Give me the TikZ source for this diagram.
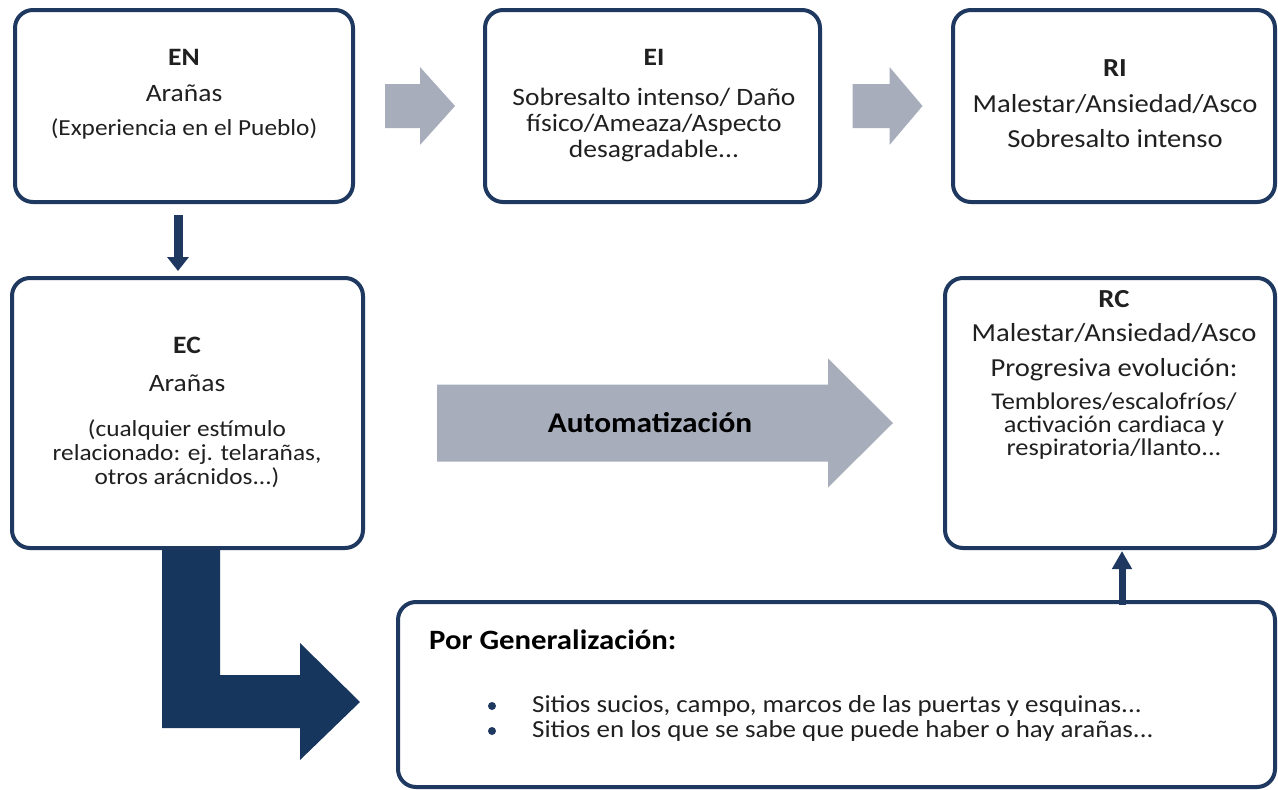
\documentclass[tikz,border=0pt]{standalone}
\usepackage{fontspec}
\setmainfont{Carlito}[FakeStretch=1.1]
\usetikzlibrary{arrows.meta}
\definecolor{navy}{RGB}{31,56,96}
\definecolor{navyfill}{RGB}{23,54,93}
\definecolor{arrgray}{RGB}{167,173,187}
\definecolor{txt}{RGB}{32,32,32}
\newcommand{\smf}{\fontsize{23}{24}\selectfont}
\newcommand{\smr}{\fontsize{24}{24}\selectfont}
\begin{document}
\begin{tikzpicture}[x=1pt,y=-1pt,
  box/.style={draw=navy, line width=4pt, rounded corners=18pt, fill=white, inner sep=0pt},
  lbl/.style={align=center, inner sep=0pt, text=txt, font=\fontsize{25}{26}\selectfont},
  lblr/.style={lbl, font=\fontsize{26}{26}\selectfont},
  thinarrow/.style={draw=navy, line width=#1},
  blockarrow/.style={fill=arrgray}]
\useasboundingbox (0,0) rectangle (1278,790);
\fill[white] (0,0) rectangle (1278,790);

% boxes
\node[box, minimum width=338pt, minimum height=192pt] (EN) at (184,106) {};
\node[box, minimum width=335pt, minimum height=192pt] (EI) at (652.5,106) {};
\node[box, minimum width=322pt, minimum height=192pt] (RI) at (1114,106) {};
\node[box, minimum width=351pt, minimum height=270pt] (EC) at (187.5,413) {};
\node[box, minimum width=330pt, minimum height=270pt] (RC) at (1110,413) {};

% L-shaped arrow EC -> Gen
\fill[navyfill] (162,0 |- EC.south) -- (220,0 |- EC.south) -- (220,675) -- (300,675) -- (300,643)
   -- (360,702) -- (300,760) -- (300,728) -- (162,728) -- cycle;
\node[box, minimum width=877pt, minimum height=185pt] (Gen) at (836.5,694.5) {};

% texts
\node[lbl, anchor=north] (ENt) at (184,49) {\textbf{EN}\\[10pt] Arañas\\[8pt] \smf (Experiencia en el Pueblo)};
\node[lbl, anchor=north] (EIt) at (654,49) {\textbf{EI}\\[14pt] Sobresalto intenso/ Daño\\ físico/Ameaza/Aspecto\\ desagradable...};
\node[lblr, anchor=north] (RIt) at (1115,59) {\textbf{RI}\\[10pt] Malestar/Ansiedad/Asco\\[9pt] Sobresalto intenso};
\node[lbl, anchor=north] (ECt) at (187,337) {\textbf{EC}\\[12pt] Arañas\\[19pt] \smf (cualquier estímulo\\[-2pt] \smf relacionado: ej. telarañas,\\[-2pt] \smf otros arácnidos...)};
\node[lblr, anchor=north] (RCt) at (1114,290) {\textbf{RC}\\[8pt] Malestar/Ansiedad/Asco\\[9pt] Progresiva evolución:\\[7pt] \smr Temblores/escalofríos/\\[-3pt] \smr activación cardiaca y\\[-3pt] \smr respiratoria/llanto...};

\node[anchor=west, inner sep=0pt, text=black, font=\fontsize{28}{30}\selectfont\bfseries] (GenT) at (429,640) {Por Generalización:};
\node[circle, fill=navy, inner sep=0pt, minimum size=8pt] (b1) at (492,706) {};
\node[circle, fill=navy, inner sep=0pt, minimum size=8pt] (b2) at (492,731) {};
\node[anchor=west, inner sep=0pt, text=txt, font=\fontsize{24.5}{26}\selectfont] (g1) at (532,706) {Sitios sucios, campo, marcos de las puertas y esquinas...};
\node[anchor=west, inner sep=0pt, text=txt, font=\fontsize{24.5}{26}\selectfont] (g2) at (532,731) {Sitios en los que se sabe que puede haber o hay arañas...};

% gray block arrows
\path (EN.east) -- (EI.west) coordinate[midway] (m1);
\path (EI.east) -- (RI.west) coordinate[midway] (m2);
\path (EC.east) -- (RC.west) coordinate[midway] (m3);
\fill[blockarrow, shift={(m1)}] (-34,-22) -- (1,-22) -- (1,-39) -- (36,0) -- (1,39) -- (1,22) -- (-34,22) -- cycle;
\fill[blockarrow, shift={(m2)}] (-34,-22) -- (3,-22) -- (3,-39) -- (36,0) -- (3,39) -- (3,22) -- (-34,22) -- cycle;
\fill[blockarrow, shift={([yshift=-10pt]m3)}] (-217,-38.5) -- (174,-38.5) -- (174,-64.5) -- (239,0)
   -- (174,64.5) -- (174,38.5) -- (-217,38.5) -- cycle;
\node[inner sep=0pt, text=black, font=\fontsize{28.5}{30}\selectfont\bfseries] (auto) at (650,423) {Automatización};

% thin arrows
\draw[thinarrow=9pt, -{Triangle[width=21pt,length=14pt]}, shorten <=11pt, shorten >=5pt]
   (178,0 |- EN.south) -- (178,0 |- EC.north);
\draw[thinarrow=7pt, -{Triangle[width=19pt,length=18pt]}, shorten <=-5pt, shorten >=1pt]
   (1122,0 |- Gen.north) -- (1122,0 |- RC.south);
\end{tikzpicture}
\end{document}
